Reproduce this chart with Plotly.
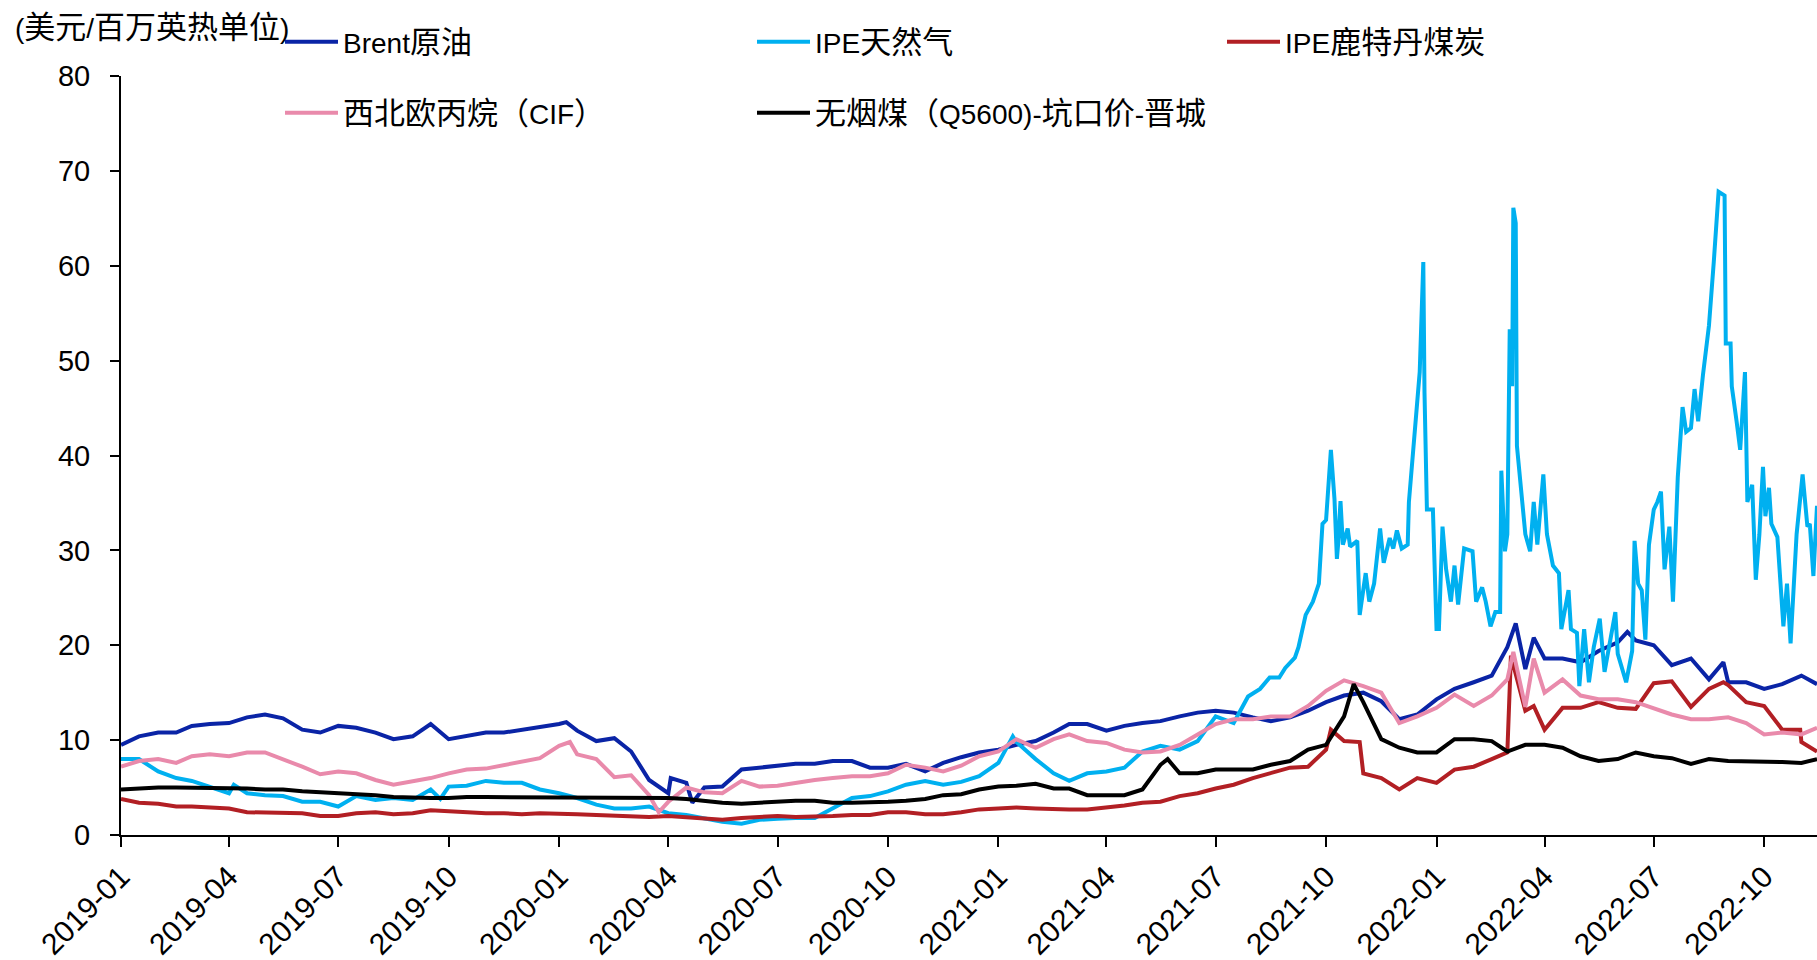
import pandas as pd
import plotly.graph_objects as go

# ---------------- data ----------------
# semi-monthly sampling dates (1st and 16th of each month) 2019-01 .. 2022-11-14
semi_dates = [f"{y}-{m:02d}-{d:02d}" for y in (2019, 2020, 2021, 2022)
              for m in range(1, 13) for d in (1, 16)]
semi_dates = semi_dates[:semi_dates.index("2022-11-01") + 1] + ["2022-11-14"]

brent_vals = [
    9.5, 10.4, 10.8, 10.8, 11.5, 11.7, 11.8, 12.4, 12.7, 12.3, 11.1, 10.8,
    11.5, 11.3, 10.8, 10.1, 10.4, 11.7, 10.1, 10.4, 10.8, 10.8, 11.1, 11.3,
    11.7, 11.0, 9.9, 10.2, 8.8, 5.8, 4.4, 5.5, 5.0, 5.1, 6.9, 7.1,
    7.2, 7.5, 7.5, 7.8, 7.8, 7.1, 7.1, 7.5, 6.7, 7.6, 8.2, 8.7,
    9.0, 9.5, 9.9, 10.8, 11.7, 11.7, 11.0, 11.5, 11.8, 12.0, 12.5, 12.9,
    13.1, 12.9, 12.4, 12.0, 12.4, 13.1, 14.0, 14.7, 15.0, 14.1, 12.2, 12.7,
    14.3, 15.4, 16.1, 16.8, 19.8, 17.5, 18.6, 18.6, 18.2, 19.4, 20.3, 20.5,
    20.0, 17.9, 18.6, 16.4, 16.1, 16.1, 15.4, 15.9, 16.8, 15.9]
brent_extra_dates = ["2020-01-07", "2020-04-03", "2020-04-21", "2022-03-08",
                     "2022-03-23", "2022-06-09", "2022-08-28"]
brent_extra_vals = [11.9, 6.0, 3.4, 22.3, 20.8, 21.4, 18.2]

gas_semi_vals = [
    8.0, 8.0, 6.7, 6.0, 5.7, 5.1, 4.4, 4.4, 4.2, 4.1, 3.5, 3.5,
    3.0, 4.1, 3.7, 3.9, 3.7, 4.8, 5.1, 5.2, 5.7, 5.5, 5.5, 4.8,
    4.4, 3.9, 3.2, 2.8, 2.8, 3.0, 2.3, 2.1, 1.8, 1.4, 1.2, 1.6,
    1.7, 1.8, 1.8, 2.8, 3.9, 4.1, 4.6, 5.3, 5.7, 5.3, 5.6, 6.2,
    7.6, 9.8, 8.0, 6.5, 5.7, 6.5, 6.7, 7.1, 8.8, 9.4, 9.0, 9.9,
    12.5, 11.8]
gas_extra_dates = [
    "2019-04-05", "2019-09-24", "2021-01-13",
    "2021-07-28", "2021-08-07", "2021-08-15", "2021-08-23", "2021-08-28",
    "2021-09-05", "2021-09-08", "2021-09-14", "2021-09-20", "2021-09-25",
    "2021-09-28", "2021-10-01", "2021-10-05", "2021-10-08", "2021-10-10",
    "2021-10-11", "2021-10-13", "2021-10-15", "2021-10-19", "2021-10-21",
    "2021-10-27", "2021-10-29", "2021-11-03", "2021-11-06", "2021-11-10",
    "2021-11-15", "2021-11-18", "2021-11-23", "2021-11-26", "2021-11-29",
    "2021-12-03", "2021-12-08", "2021-12-09", "2021-12-12", "2021-12-16",
    "2021-12-18", "2021-12-21", "2021-12-22", "2021-12-24", "2021-12-29",
    "2022-01-01", "2022-01-03", "2022-01-06", "2022-01-09", "2022-01-13",
    "2022-01-16", "2022-01-19", "2022-01-24", "2022-01-31", "2022-02-03",
    "2022-02-08", "2022-02-11", "2022-02-15", "2022-02-19", "2022-02-23",
    "2022-02-24", "2022-02-27", "2022-03-01", "2022-03-03", "2022-03-05",
    "2022-03-06", "2022-03-08", "2022-03-09", "2022-03-13", "2022-03-16",
    "2022-03-20", "2022-03-23", "2022-03-26", "2022-03-31", "2022-04-03",
    "2022-04-08", "2022-04-13", "2022-04-15", "2022-04-21", "2022-04-23",
    "2022-04-28", "2022-04-30", "2022-05-04", "2022-05-08", "2022-05-12",
    "2022-05-17", "2022-05-21", "2022-05-24", "2022-05-30", "2022-06-01",
    "2022-06-08", "2022-06-13", "2022-06-15", "2022-06-18", "2022-06-21",
    "2022-06-24", "2022-06-27", "2022-07-01", "2022-07-04", "2022-07-07",
    "2022-07-10", "2022-07-14", "2022-07-17", "2022-07-21", "2022-07-25",
    "2022-07-28", "2022-08-01", "2022-08-04", "2022-08-07", "2022-08-11",
    "2022-08-16", "2022-08-20", "2022-08-24", "2022-08-29", "2022-08-30",
    "2022-09-03", "2022-09-04", "2022-09-08", "2022-09-11", "2022-09-15",
    "2022-09-17", "2022-09-21", "2022-09-24", "2022-09-27", "2022-09-30",
    "2022-10-02", "2022-10-05", "2022-10-07", "2022-10-12", "2022-10-17",
    "2022-10-20", "2022-10-23", "2022-10-28", "2022-11-02", "2022-11-06",
    "2022-11-08", "2022-11-11", "2022-11-14"]
gas_extra_vals = [
    5.3, 3.8, 10.4,
    14.6, 15.4, 16.6, 16.6, 17.6,
    18.7, 19.8, 23.2, 24.6, 26.5,
    32.8, 33.2, 40.6, 35.4, 29.1,
    30.6, 35.2, 30.6, 32.3, 30.4,
    31.0, 23.2, 27.6, 24.6, 26.5,
    32.3, 28.7, 31.3, 30.2, 32.1,
    30.2, 30.6, 35.1, 39.9, 45.5,
    48.8, 60.4, 46.6, 34.3, 34.3,
    21.7, 21.7, 32.5, 28.0, 24.6,
    28.4, 24.3, 30.2, 29.9, 24.6,
    26.1, 24.6, 22.0, 23.5, 23.5,
    38.4, 29.9, 31.7, 53.3, 47.3,
    66.1, 64.5, 41.0, 35.4, 31.7,
    29.9, 35.1, 30.6, 38.0, 31.7,
    28.4, 27.6, 21.7, 25.8, 21.7,
    21.3, 15.7, 21.7, 16.1, 19.8,
    22.8, 17.2, 19.4, 23.5, 19.1,
    16.1, 19.4, 31.0, 26.5, 25.8,
    20.6, 30.6, 34.3, 35.1, 36.2,
    28.0, 32.5, 24.6, 37.7, 45.1,
    42.5, 42.9, 47.0, 43.6, 48.5,
    53.7, 60.4, 67.8, 67.4, 51.8,
    51.8, 47.3, 43.6, 40.6, 48.8,
    35.1, 36.9, 26.9, 31.7, 38.8,
    33.6, 36.6, 32.8, 31.4, 22.0,
    26.5, 20.2, 31.7, 38.0, 32.5,
    32.8, 27.3, 34.7]

coal_rd_vals = [
    3.8, 3.4, 3.3, 3.0, 3.0, 2.9, 2.8, 2.4, 2.4, 2.4, 2.3, 2.0,
    2.0, 2.3, 2.4, 2.2, 2.3, 2.6, 2.5, 2.5, 2.3, 2.3, 2.2, 2.3,
    2.3, 2.2, 2.1, 2.0, 2.0, 1.9, 2.0, 1.9, 1.7, 1.6, 1.8, 1.9,
    2.0, 1.9, 1.9, 2.0, 2.1, 2.1, 2.4, 2.4, 2.2, 2.2, 2.4, 2.7,
    2.8, 2.9, 2.8, 2.7, 2.7, 2.7, 2.9, 3.1, 3.4, 3.5, 4.1, 4.4,
    4.9, 5.3, 6.0, 6.5, 7.1, 7.2, 9.0, 9.9, 6.5, 6.0, 4.8, 6.0,
    5.5, 6.9, 7.2, 8.0, 8.7, 13.1, 11.1, 13.4, 13.4, 14.0, 13.4, 13.3,
    16.0, 16.2, 13.5, 15.4, 15.8, 14.0, 13.6, 11.1, 9.8, 8.8]
coal_rd_extra_dates = ["2021-10-05", "2021-10-29", "2022-03-04", "2022-03-23",
                       "2022-08-28", "2022-10-31"]
coal_rd_extra_vals = [11.1, 9.8, 18.9, 13.6, 16.1, 11.1]

propane_vals = [
    7.2, 7.8, 8.0, 7.6, 8.3, 8.5, 8.3, 8.7, 8.7, 8.0, 7.2, 6.4,
    6.7, 6.5, 5.8, 5.3, 5.7, 6.0, 6.5, 6.9, 7.0, 7.4, 7.8, 8.1,
    9.4, 8.5, 8.0, 6.1, 6.3, 4.2, 3.5, 5.0, 4.5, 4.4, 5.7, 5.1,
    5.2, 5.5, 5.8, 6.0, 6.2, 6.2, 6.5, 7.4, 7.1, 6.7, 7.3, 8.3,
    8.8, 10.1, 9.2, 10.1, 10.6, 9.9, 9.7, 9.0, 8.7, 8.8, 9.5, 10.6,
    11.7, 12.2, 12.2, 12.5, 12.5, 13.6, 15.2, 16.3, 15.7, 15.0, 11.8, 12.5,
    13.4, 14.8, 13.6, 14.7, 16.4, 13.5, 15.0, 16.4, 14.7, 14.3, 14.3, 14.0,
    13.3, 12.7, 12.2, 12.2, 12.4, 11.8, 10.6, 10.8, 10.6, 11.3]
propane_extra_dates = ["2020-01-10", "2020-03-24", "2022-03-06", "2022-03-23"]
propane_extra_vals = [9.8, 2.4, 19.3, 18.6]

anthracite_vals = [
    4.8, 4.9, 5.0, 5.0, 5.0, 5.0, 5.0, 4.9, 4.8, 4.8, 4.6, 4.5,
    4.5, 4.4, 4.2, 4.0, 3.9, 3.9, 3.9, 4.0, 4.0, 4.0, 4.0, 4.0,
    4.0, 4.0, 4.0, 4.0, 4.0, 3.9, 3.9, 3.8, 3.6, 3.4, 3.3, 3.4,
    3.5, 3.6, 3.6, 3.4, 3.4, 3.4, 3.5, 3.6, 3.8, 4.2, 4.3, 4.8,
    5.1, 5.2, 5.4, 4.9, 4.9, 4.2, 4.2, 4.2, 4.8, 7.4, 6.5, 6.5,
    6.9, 6.9, 6.9, 7.4, 7.8, 9.0, 9.5, 12.5, 14.0, 10.1, 9.2, 8.7,
    8.7, 10.1, 10.1, 9.9, 8.8, 9.5, 9.5, 9.2, 8.3, 7.8, 8.0, 8.7,
    8.3, 8.1, 7.5, 8.0, 7.8, 7.8, 7.8, 7.7, 7.6, 8.0]
anthracite_extra_dates = ["2021-05-22", "2021-10-24"]
anthracite_extra_vals = [8.0, 15.9]

CJK = "<span style='font-size:31px'>{}</span>"
names = ["Brent" + CJK.format("原油"),
         "IPE" + CJK.format("天然气"),
         "IPE" + CJK.format("鹿特丹煤炭"),
         CJK.format("西北欧丙烷（") + "CIF" + CJK.format("）"),
         CJK.format("无烟煤（") + "Q5600)-" + CJK.format("坑口价") + "-" + CJK.format("晋城")]
colors = ["#0A24A6", "#00B0F0", "#B21F24", "#E98AAB", "#000000"]

y_title = "(" + CJK.format("美元") + "/" + CJK.format("百万英热单位") + ")"
x_ticks_start, x_range = "2019-01-01", ["2019-01-01", "2022-11-14"]


def series(base_dates, base_vals, extra_dates, extra_vals):
    df = pd.DataFrame({"d": pd.to_datetime(list(base_dates) + list(extra_dates)),
                       "v": list(base_vals) + list(extra_vals)})
    df = df.sort_values("d")
    return df["d"], df["v"]


data = [
    series(semi_dates, brent_vals, brent_extra_dates, brent_extra_vals),
    series(semi_dates[:len(gas_semi_vals)], gas_semi_vals, gas_extra_dates, gas_extra_vals),
    series(semi_dates, coal_rd_vals, coal_rd_extra_dates, coal_rd_extra_vals),
    series(semi_dates, propane_vals, propane_extra_dates, propane_extra_vals),
    series(semi_dates, anthracite_vals, anthracite_extra_dates, anthracite_extra_vals),
]

FONT = "Liberation Sans, Arial, Noto Sans CJK SC, sans-serif"
W, H = 1817, 960
ML, MR, MT, MB = 121, 0, 76, 125
pw, ph = W - ML - MR, H - MT - MB

def px_x(px):
    return (px - ML) / pw

def px_y(py):
    return (H - MB - py) / ph

legend_pos = [(280, 42), (752, 42), (1222, 42), (280, 113), (752, 113)]

fig = go.Figure()
layout_legends = {}
for i, ((xd, yv), name, col) in enumerate(zip(data, names, colors)):
    key = "legend" if i == 0 else f"legend{i + 1}"
    fig.add_trace(go.Scatter(x=xd, y=yv, mode="lines", name=name,
                             line=dict(color=col, width=4),
                             legend=key, showlegend=True))
    lx, ly = legend_pos[i]
    layout_legends[key] = dict(x=px_x(lx), y=px_y(ly), xanchor="left", yanchor="middle",
                               bgcolor="rgba(0,0,0,0)", borderwidth=0,
                               font=dict(family=FONT, size=28, color="black"),
                               itemwidth=53)

fig.update_layout(
    width=W, height=H,
    margin=dict(l=ML, r=MR, t=MT, b=MB, pad=0),
    paper_bgcolor="white", plot_bgcolor="white",
    font=dict(family=FONT, size=28, color="black"),
    **layout_legends,
    xaxis=dict(type="date", range=x_range, tick0=x_ticks_start, dtick="M3",
               tickformat="%Y-%m", tickangle=-45, showgrid=False, zeroline=False,
               showline=True, linecolor="black", linewidth=2,
               ticks="outside", ticklen=10, tickwidth=2, tickcolor="black",
               tickfont=dict(family=FONT, size=30, color="black")),
    yaxis=dict(range=[0, 80], dtick=10, showgrid=False, zeroline=False,
               showline=True, linecolor="black", linewidth=2,
               ticks="outside", ticklen=9, tickwidth=2, tickcolor="black",
               ticklabelstandoff=14,
               tickfont=dict(family=FONT, size=29, color="black")),
    annotations=[dict(text=y_title, xref="paper", yref="paper",
                      x=px_x(13), y=px_y(28), xanchor="left", yanchor="middle",
                      showarrow=False, font=dict(family=FONT, size=28, color="black"))],
)

fig.write_html("out.html")
